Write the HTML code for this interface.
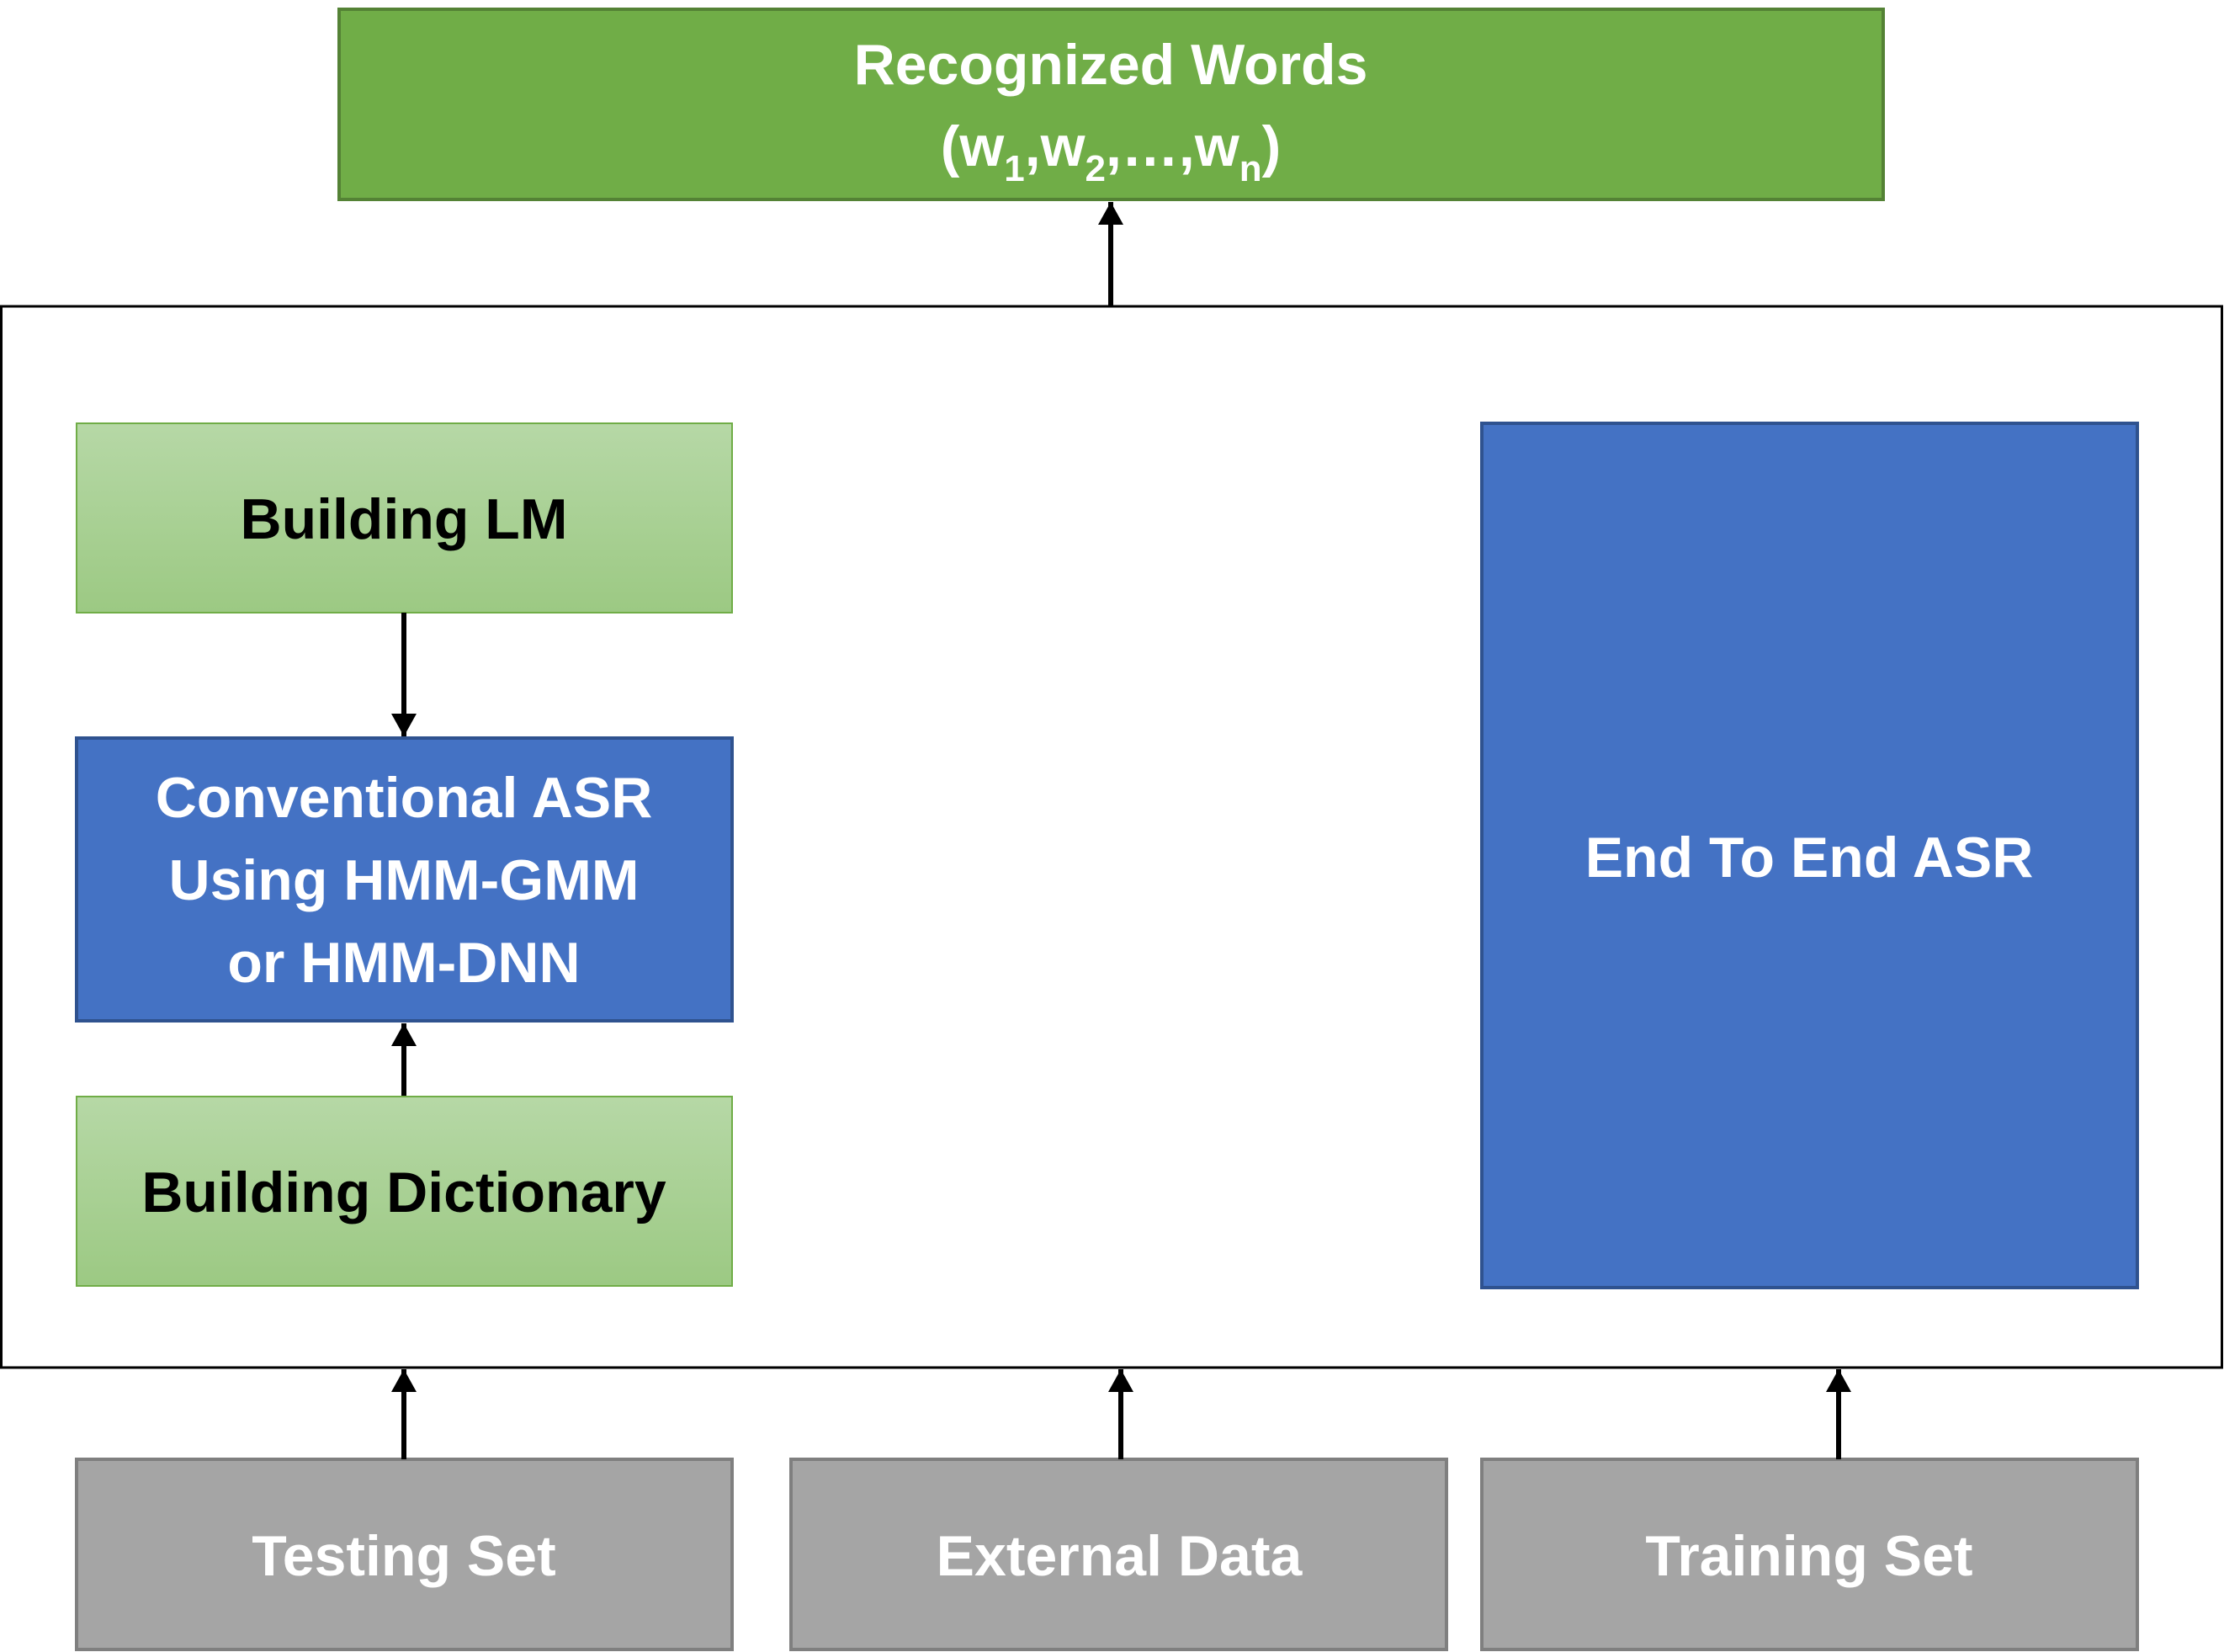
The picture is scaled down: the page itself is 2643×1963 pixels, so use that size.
<!DOCTYPE html>
<html><head><meta charset="utf-8"><style>
html,body{margin:0;padding:0;background:#fff}
svg{display:block}
text{font-family:"Liberation Sans",sans-serif;font-weight:bold;text-anchor:middle}
</style></head><body>
<svg width="2643" height="1963" viewBox="0 0 2643 1963" xmlns="http://www.w3.org/2000/svg">
<defs>
<linearGradient id="g" x1="0" y1="0" x2="0" y2="1">
<stop offset="0" stop-color="#b6d8a6"/><stop offset="1" stop-color="#9cc983"/>
</linearGradient>
<marker id="a" markerWidth="4.5" markerHeight="5" refX="4.5" refY="2.5" orient="auto" markerUnits="strokeWidth">
<path d="M0,0 L4.5,2.5 L0,5 z" fill="#000"/>
</marker>
</defs>
<rect x="403" y="11" width="1835" height="226" fill="#70ad47" stroke="#548235" stroke-width="4"/>
<text x="1320" y="100" font-size="68" fill="#fff">Recognized Words</text>
<text x="1320" y="197" font-size="68" fill="#fff">(w<tspan font-size="44" dy="18">1</tspan><tspan dy="-18">,w</tspan><tspan font-size="44" dy="18">2</tspan><tspan dy="-18">,…,w</tspan><tspan font-size="44" dy="18">n</tspan><tspan dy="-18">)</tspan></text>
<rect x="1.5" y="364" width="2639" height="1261" fill="#fff" stroke="#000" stroke-width="3"/>
<line x1="1320" y1="364" x2="1320" y2="240" stroke="#000" stroke-width="6" marker-end="url(#a)"/>
<rect x="91" y="503" width="779" height="225" fill="url(#g)" stroke="#70ad47" stroke-width="2"/>
<text x="480" y="640" font-size="68" fill="#000">Building LM</text>
<line x1="480" y1="728" x2="480" y2="875" stroke="#000" stroke-width="6" marker-end="url(#a)"/>
<rect x="91" y="877" width="779" height="336" fill="#4472c4" stroke="#2f528f" stroke-width="4"/>
<text font-size="68" fill="#fff"><tspan x="480" y="971">Conventional ASR</tspan><tspan x="480" y="1069">Using HMM-GMM</tspan><tspan x="480" y="1167">or HMM-DNN</tspan></text>
<line x1="480" y1="1303" x2="480" y2="1216" stroke="#000" stroke-width="6" marker-end="url(#a)"/>
<rect x="91" y="1303" width="779" height="225" fill="url(#g)" stroke="#70ad47" stroke-width="2"/>
<text x="480" y="1440" font-size="68" fill="#000">Building Dictionary</text>
<rect x="1761" y="503" width="779" height="1027" fill="#4472c4" stroke="#2f528f" stroke-width="4"/>
<text x="2150" y="1042" font-size="68" fill="#fff">End To End ASR</text>
<rect x="91" y="1734" width="779" height="226" fill="#a5a5a5" stroke="#7f7f7f" stroke-width="4"/>
<text x="480" y="1872" font-size="68" fill="#fff">Testing Set</text>
<rect x="940" y="1734" width="779" height="226" fill="#a5a5a5" stroke="#7f7f7f" stroke-width="4"/>
<text x="1330" y="1872" font-size="68" fill="#fff">External Data</text>
<rect x="1761" y="1734" width="779" height="226" fill="#a5a5a5" stroke="#7f7f7f" stroke-width="4"/>
<text x="2150" y="1872" font-size="68" fill="#fff">Training Set</text>
<line x1="480" y1="1734" x2="480" y2="1627" stroke="#000" stroke-width="6" marker-end="url(#a)"/>
<line x1="1332" y1="1734" x2="1332" y2="1627" stroke="#000" stroke-width="6" marker-end="url(#a)"/>
<line x1="2185" y1="1734" x2="2185" y2="1627" stroke="#000" stroke-width="6" marker-end="url(#a)"/>
</svg>
</body></html>
